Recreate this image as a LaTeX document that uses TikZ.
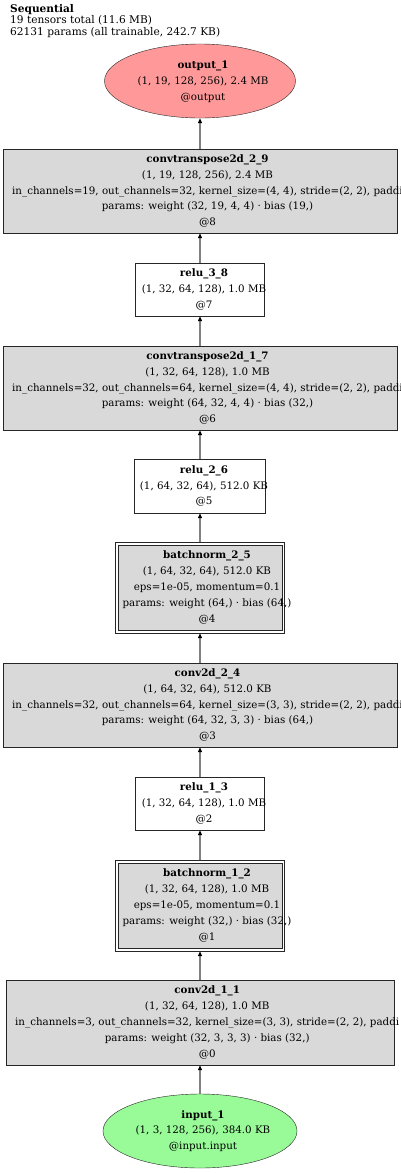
\documentclass[tikz,border=0pt]{standalone}
\usepackage{fontspec}
\setmainfont{DejaVu Serif}
\usetikzlibrary{arrows.meta,shapes.geometric}

\definecolor{layergray}{HTML}{D9D9D9}
\definecolor{inputgreen}{HTML}{98FB98}
\definecolor{outputred}{HTML}{FF9999}
\definecolor{edgegray}{HTML}{808080}

\tikzset{
	txt/.style={font=\fontsize{10.3}{15.8}\selectfont, align=center, inner sep=0pt},
	layerbox/.style={draw=black!85, fill=layergray, minimum width=394pt, minimum height=84pt, inner sep=0pt},
	actbox/.style={draw=black!85, fill=white, minimum width=129pt, minimum height=53pt, inner sep=0pt},
	normouter/.style={draw=black!85, fill=white, minimum width=169pt, minimum height=91pt, inner sep=0pt},
	norminner/.style={draw=black!85, fill=layergray, minimum width=164pt, minimum height=85pt, inner sep=0pt},
	tensor/.style={ellipse, draw=black!85, minimum width=191pt, minimum height=74pt, inner sep=0pt},
	edge/.style={draw=edgegray, line width=1.2pt, -{Triangle[length=5pt,width=4pt,color=black]}}
}

\begin{document}
\begin{tikzpicture}[x=1pt,y=-1pt]
		\useasboundingbox (0,0) rectangle (400,1173);
		
		\node[anchor=north west, align=left, inner sep=0pt, font=\fontsize{10.6}{11.5}\selectfont] (title) at (10,4)
			{\textbf{Sequential}\\19 tensors total (11.6 MB)\\62131 params (all trainable, 242.7 KB)};
		
		% shapes
		\node[tensor, fill=outputred] (out) at (200,81) {};
		\node[layerbox] (ct9) at (200,191) {};
		\node[actbox] (relu8) at (200,289.5) {};
		\node[layerbox] (ct7) at (200,388) {};
		\node[actbox, minimum width=131pt, minimum height=54pt] (relu6) at (200,486) {};
		\node[normouter] (bn5) at (200,587.5) {};
		\node[norminner] (bn5in) at (bn5.center) {};
		\node[layerbox] (cv4) at (200,705) {};
		\node[actbox] (relu3) at (200,803.5) {};
		\node[normouter] (bn2) at (200,905.5) {};
		\node[norminner] (bn2in) at (bn2.center) {};
		\node[layerbox, minimum width=388pt, minimum height=85pt] (cv1) at (200,1022.5) {};
		\node[tensor, fill=inputgreen, minimum width=194pt] (in) at (200,1131) {};
		
		% texts
		\node[txt] (outtxt) at ([xshift=3pt,yshift=-1pt]out.center) {\textbf{output\_1}\\(1, 19, 128, 256), 2.4 MB\\@output};
		\node[txt, anchor=west] (ct9txt) at (12,191) {\textbf{convtranspose2d\_2\_9}\\(1, 19, 128, 256), 2.4 MB\\in\_channels=19, out\_channels=32, kernel\_size=(4, 4), stride=(2, 2), paddi\\params: weight (32, 19, 4, 4) · bias (19,)\\@8};
		\node[txt] (relu8txt) at ([xshift=4pt]relu8.center) {\textbf{relu\_3\_8}\\(1, 32, 64, 128), 1.0 MB\\@7};
		\node[txt, anchor=west] (ct7txt) at (12,388) {\textbf{convtranspose2d\_1\_7}\\(1, 32, 64, 128), 1.0 MB\\in\_channels=32, out\_channels=64, kernel\_size=(4, 4), stride=(2, 2), paddi\\params: weight (64, 32, 4, 4) · bias (32,)\\@6};
		\node[txt] (relu6txt) at ([xshift=4pt]relu6.center) {\textbf{relu\_2\_6}\\(1, 64, 32, 64), 512.0 KB\\@5};
		\node[txt] (bn5txt) at ([xshift=7pt]bn5.center) {\textbf{batchnorm\_2\_5}\\(1, 64, 32, 64), 512.0 KB\\eps=1e-05, momentum=0.1\\params: weight (64,) · bias (64,)\\@4};
		\node[txt, anchor=west] (cv4txt) at (12,705) {\textbf{conv2d\_2\_4}\\(1, 64, 32, 64), 512.0 KB\\in\_channels=32, out\_channels=64, kernel\_size=(3, 3), stride=(2, 2), paddi\\params: weight (64, 32, 3, 3) · bias (64,)\\@3};
		\node[txt] (relu3txt) at ([xshift=4pt]relu3.center) {\textbf{relu\_1\_3}\\(1, 32, 64, 128), 1.0 MB\\@2};
		\node[txt] (bn2txt) at ([xshift=7pt]bn2.center) {\textbf{batchnorm\_1\_2}\\(1, 32, 64, 128), 1.0 MB\\eps=1e-05, momentum=0.1\\params: weight (32,) · bias (32,)\\@1};
		\node[txt, anchor=west] (cv1txt) at (15,1022.5) {\textbf{conv2d\_1\_1}\\(1, 32, 64, 128), 1.0 MB\\in\_channels=3, out\_channels=32, kernel\_size=(3, 3), stride=(2, 2), paddi\\params: weight (32, 3, 3, 3) · bias (32,)\\@0};
		\node[txt] (intxt) at ([xshift=3pt]in.center) {\textbf{input\_1}\\(1, 3, 128, 256), 384.0 KB\\@input.input};
		
		% edges, bottom to top
		\draw[edge] (in.north) -- (cv1.south);
		\draw[edge] (cv1.north) -- (bn2.south);
		\draw[edge] (bn2.north) -- (relu3.south);
		\draw[edge] (relu3.north) -- (cv4.south);
		\draw[edge] (cv4.north) -- (bn5.south);
		\draw[edge] (bn5.north) -- (relu6.south);
		\draw[edge] (relu6.north) -- (ct7.south);
		\draw[edge] (ct7.north) -- (relu8.south);
		\draw[edge] (relu8.north) -- (ct9.south);
		\draw[edge] (ct9.north) -- (out.south);
	\end{tikzpicture}
\end{document}
